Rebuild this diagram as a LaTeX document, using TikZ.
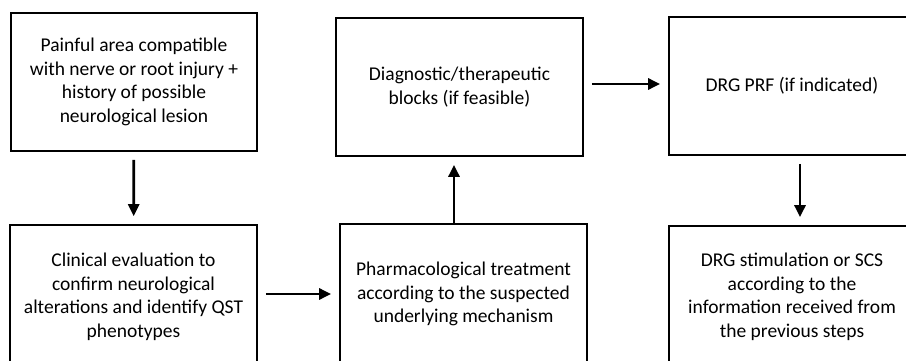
\documentclass[tikz,border=0pt]{standalone}
\usepackage{fontspec}
\setmainfont{Carlito}
\usetikzlibrary{arrows.meta}

\begin{document}
\begin{tikzpicture}[x=1pt,y=1pt,
  font=\fontsize{19.5}{23.5}\selectfont,
  b/.style={draw,line width=1.7pt,align=center,inner sep=0pt,fill=white},
  a/.style={line width=2.8pt,-{Triangle[length=12pt,width=11pt]},shorten <=8pt,shorten >=8pt}]
\useasboundingbox (0,0) rectangle (906,360);
\clip (0,0) rectangle (906,360);
\node[b,minimum width=246pt,minimum height=138pt] (pain) at (134,278) {Painful area compatible\\with nerve or root injury +\\history of possible\\neurological lesion};
\node[b,minimum width=247pt,minimum height=144pt] (clin) at (133.5,63) {Clinical evaluation to\\confirm neurological\\alterations and identify QST\\phenotypes};
\node[b,minimum width=247pt,minimum height=140pt] (pharm) at (463.5,66) {Pharmacological treatment\\according to the suspected\\underlying mechanism};
\node[b,minimum width=247pt,minimum height=138pt] (diag) at (459.5,273) {Diagnostic/therapeutic\\blocks (if feasible)};
\node[b,minimum width=246pt,minimum height=138pt] (prf) at (792,274) {DRG PRF (if indicated)};
\node[b,minimum width=246pt,minimum height=142pt] (stim) at (792,63) {DRG stimulation or SCS\\according to the\\information received from\\the previous steps};
\draw[a](pain)--(clin);
\draw[a]([yshift=3pt]clin.east)--([yshift=3pt]clin.east -| pharm.west);
\draw[a,shorten <=0pt]([xshift=-9.5pt]pharm.north)--([xshift=-9.5pt]pharm.north |- diag.south);
\draw[a]([yshift=3pt]diag.east)--([yshift=3pt]diag.east -| prf.west);
\draw[a]([xshift=8pt]prf.south)--([xshift=8pt]prf.south |- stim.north);
\end{tikzpicture}
\end{document}
